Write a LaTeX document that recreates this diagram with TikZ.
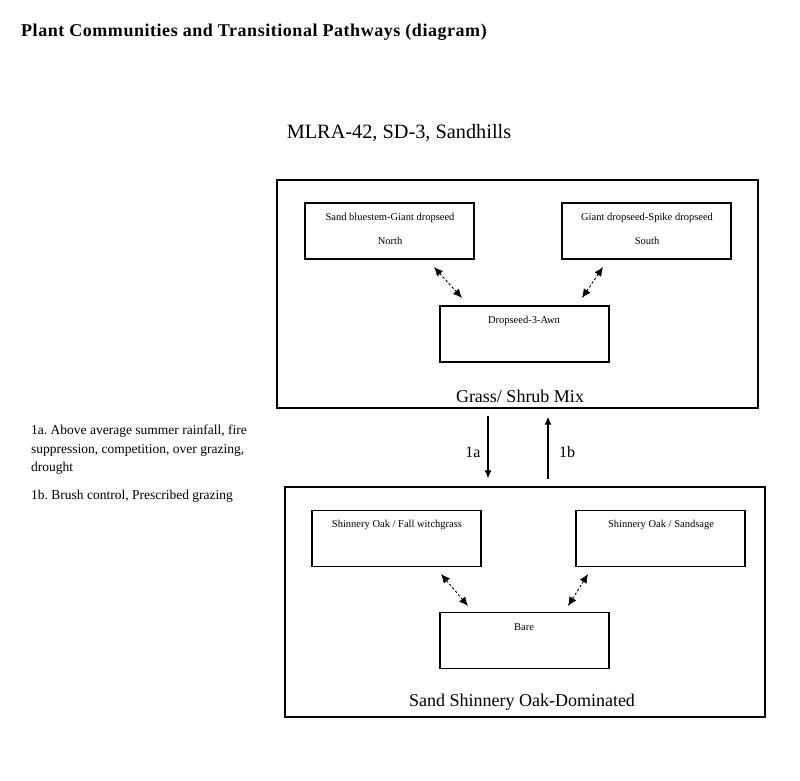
\documentclass[tikz,border=0pt]{standalone}
\usepackage{fontspec}
\setmainfont{Liberation Serif}
\usetikzlibrary{arrows.meta}
\frenchspacing
\begin{document}
\begin{tikzpicture}[x=1pt,y=-1pt,
  outer/.style={draw, line width=1.4pt, rectangle, inner sep=0pt},
  inner/.style={draw, line width=1.1pt, rectangle, inner sep=0pt, minimum width=169pt, minimum height=56pt},
  small/.style={font=\fontsize{10.5}{12}\selectfont, inner sep=0pt},
  big/.style={font=\fontsize{18}{20}\selectfont, inner sep=0pt},
  note/.style={font=\fontsize{13.5}{18.5}\selectfont, inner sep=0pt, anchor=north west, align=left},
  dbl/.style={line width=0.9pt, dash pattern=on 2.5pt off 2pt, {Latex[length=9pt,width=8pt]}-{Latex[length=9pt,width=8pt]}},
  trans/.style={line width=1.1pt, -{Latex[length=8pt,width=7pt]}, shorten >=8pt, shorten <=7pt}]
\useasboundingbox (0,0) rectangle (800,780);
\fill[white] (0,0) rectangle (800,780);
\node[anchor=west, inner sep=0pt, font=\fontsize{18}{20}\selectfont\bfseries\addfontfeature{LetterSpace=3}] (title) at (21,32) {Plant Communities and Transitional Pathways (diagram)};
\node[inner sep=0pt, font=\fontsize{20.3}{22}\selectfont] (mlra) at (399,133) {MLRA-42, SD-3, Sandhills};
% state 1
\node[outer, minimum width=481pt, minimum height=228pt] (s1) at (517.5,294) {};
\node[inner] (a) at (389.5,231) {};
\node[inner] (b) at (646.5,231) {};
\node[inner] (c) at (524.5,334) {};
\node[small] (at1) at (390,218) {Sand bluestem-Giant dropseed};
\node[small] (at2) at (390,241) {North};
\node[small] (bt1) at (647,218) {Giant dropseed-Spike dropseed};
\node[small] (bt2) at (647,241) {South};
\node[small] (ct) at (524,321) {Dropseed-3-Awn};
\node[big] (s1t) at (520,396) {Grass/ Shrub Mix};
\coordinate (a1) at (434,267); \coordinate (c1) at (462,298);
\coordinate (b1) at (603,267); \coordinate (c2) at (582,298);
\draw[dbl] (a1) -- (c1);
\draw[dbl] (b1) -- (c2);
% state 2
\node[outer, minimum width=480pt, minimum height=230pt] (s2) at (525,602) {};
\node[inner] (d) at (396.5,538.5) {};
\node[inner] (e) at (660.5,538.5) {};
\node[inner] (f) at (524.5,640.5) {};
\node[small] (dt) at (397,525) {Shinnery Oak / Fall witchgrass};
\node[small] (et) at (661,525) {Shinnery Oak / Sandsage};
\node[small] (ft) at (524,627) {Bare};
\node[big] (s2t) at (522,702) {Sand Shinnery Oak-Dominated};
\coordinate (d1) at (441,574); \coordinate (f1) at (468,606);
\coordinate (e1) at (588,574); \coordinate (f2) at (568,606);
\draw[dbl] (d1) -- (f1);
\draw[dbl] (e1) -- (f2);
% transitions
\coordinate (xa) at (488,0); \coordinate (xb) at (548,0);
\draw[trans] (s1.south -| xa) -- (s2.north -| xa);
\draw[trans] (s2.north -| xb) -- (s1.south -| xb);
\node[inner sep=0pt, font=\fontsize{16}{18}\selectfont] (l1a) at (473,452) {1a};
\node[inner sep=0pt, font=\fontsize{16}{18}\selectfont] (l1b) at (567,452) {1b};
% notes
\node[note] (n1) at (31,425) {1a. Above average summer rainfall, fire\\suppression, competition, over grazing,\\drought};
\node[note] (n2) at (31,490) {1b. Brush control, Prescribed grazing};
\end{tikzpicture}
\end{document}
